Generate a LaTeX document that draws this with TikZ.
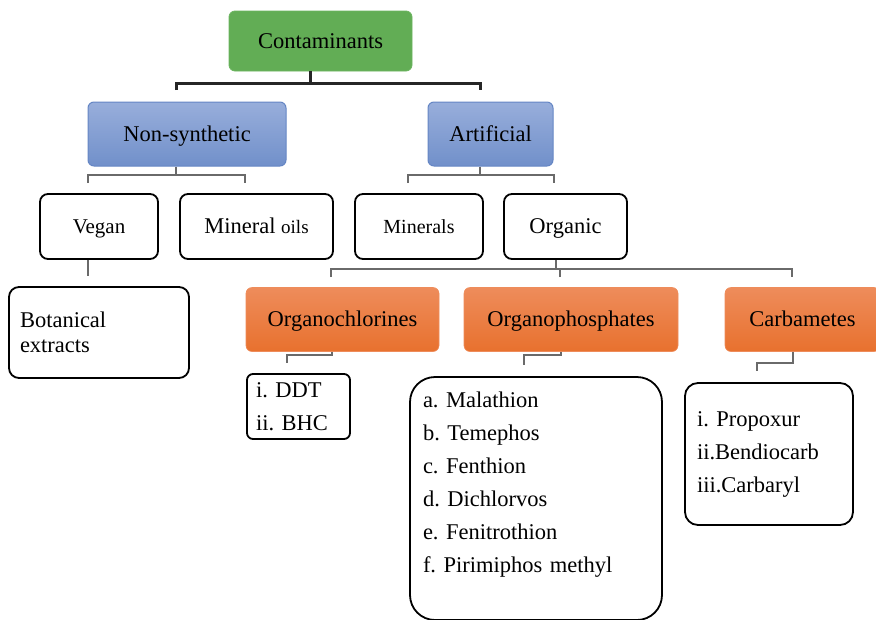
\documentclass[tikz,border=0pt]{standalone}
\usepackage{fontspec}
\setmainfont{Liberation Serif}
\frenchspacing
\definecolor{cGreen}{HTML}{62AD55}
\definecolor{cGreenE}{HTML}{6CB560}
\definecolor{cBlueT}{HTML}{98AEDB}
\definecolor{cBlueB}{HTML}{7190CA}
\definecolor{cBlueE}{HTML}{6586C4}
\definecolor{cOrT}{HTML}{EE8C5B}
\definecolor{cOrB}{HTML}{E8712E}
\definecolor{cTwig}{HTML}{6A6A6A}
\begin{document}
\begin{tikzpicture}[x=1pt,y=-1pt,
  every node/.style={font=\fontsize{22.5}{27}\selectfont, inner sep=0pt},
  line/.style={text height=16pt, text depth=2pt},
  colbox/.style={line, rounded corners=6pt, text=black, minimum height=64pt},
  greenbox/.style={colbox, fill=cGreen, draw=cGreenE, line width=0.8pt},
  bluebox/.style={colbox, top color=cBlueT, bottom color=cBlueB, draw=cBlueE, line width=1pt},
  orangebox/.style={colbox, top color=cOrT, bottom color=cOrB, draw=cOrT, line width=0.6pt},
  whitebox/.style={line, rounded corners=8pt, draw=black, line width=1.8pt, fill=white, minimum height=65pt},
  listbox/.style={draw=black, line width=1.8pt, fill=white, align=left,
    font=\fontsize{22.5}{33}\selectfont},
  trunk/.style={draw=black!85, line width=3pt},
  twig/.style={draw=cTwig, line width=1.5pt},
]
\clip (0,0) rectangle (876,619);

% ---- boxes ----
\node[greenbox, minimum width=183pt, minimum height=60pt] (cont) at (320.5,41) {Contaminants};

\node[bluebox, minimum width=198pt] (nonsyn) at (187,134) {Non-synthetic};
\node[bluebox, minimum width=125pt] (art) at (490.5,134) {Artificial};

\node[whitebox, minimum width=118pt, font=\fontsize{21}{25}\selectfont] (vegan) at (99,226.5) {Vegan};
\node[whitebox, minimum width=153pt] (minoils) at (256.5,226.5)
  {Mineral {\fontsize{19}{23}\selectfont oils}};
\node[whitebox, minimum width=128pt, font=\fontsize{20}{24}\selectfont] (minerals) at (419,226.5) {Minerals};
\node[whitebox, minimum width=123pt] (organic) at (565.5,226.5) {Organic};

\node[listbox, rounded corners=10pt, text width=158pt, inner xsep=11pt,
  minimum height=91pt, font=\fontsize{22.5}{25}\selectfont] (botan) at (99,332.5)
  {Botanical\\extracts};

\node[orangebox, minimum width=193pt] (orgcl) at (342.5,319.5) {Organochlorines};
\node[orangebox, minimum width=214pt] (orgph) at (571,319.5) {Organophosphates};
\node[orangebox, minimum width=155pt] (carb) at (802.5,319.5) {Carbametes};

\node[listbox, rounded corners=6pt, text width=85pt, inner xsep=9pt,
  minimum height=65pt] (ddt) at (298.5,406.5) {i. DDT\\ii. BHC};
\node[listbox, rounded corners=25pt, text width=226pt, inner xsep=13pt,
  minimum height=243pt] (oplist) at (536,498.5)
  {a. Malathion\\b. Temephos\\c. Fenthion\\d. Dichlorvos\\e. Fenitrothion\\f. Pirimiphos methyl\\\mbox{}};
\node[listbox, rounded corners=13pt, text width=144pt, inner xsep=12pt,
  minimum height=142pt] (cblist) at (769,454) {i. Propoxur\\ii.Bendiocarb\\iii.Carbaryl};

% ---- connectors ----
\coordinate (j0) at (310,83);
\coordinate (e1) at (176,90);
\coordinate (e2) at (480,90);
\draw[trunk] (cont.south -| j0) -- (j0);
\draw[trunk] (e1) |- (j0) -| (e2);

\coordinate (j1) at (176,175);
\coordinate (ns1) at (88,183);
\coordinate (ns2) at (245,183);
\draw[twig] (nonsyn.south -| j1) -- (j1);
\draw[twig] (ns1) |- (j1) -| (ns2);

\coordinate (j2) at (480,175);
\coordinate (ar1) at (408,183);
\coordinate (ar2) at (554,183);
\draw[twig] (art.south -| j2) -- (j2);
\draw[twig] (ar1) |- (j2) -| (ar2);

\coordinate (v1) at (88,276);
\draw[twig] (vegan.south -| v1) -- (v1);

\coordinate (j3) at (556,269);
\coordinate (o1) at (331,277);
\coordinate (o2) at (560,277);
\coordinate (o3) at (792,277);
\draw[twig] (organic.south -| j3) -- (j3);
\draw[twig] (o1) |- (j3) -| (o3);
\draw[twig] (o2) -- (o2 |- j3);

\coordinate (j4) at (332,355);
\coordinate (c1) at (287,363);
\draw[twig] (orgcl.south -| j4) -- (j4) -| (c1);

\coordinate (j5) at (561,355);
\coordinate (p1) at (524,365);
\draw[twig] (orgph.south -| j5) -- (j5) -| (p1);

\coordinate (j6) at (793,363);
\coordinate (k1) at (757,371);
\draw[twig] (carb.south -| j6) -- (j6) -| (k1);
\end{tikzpicture}
\end{document}
